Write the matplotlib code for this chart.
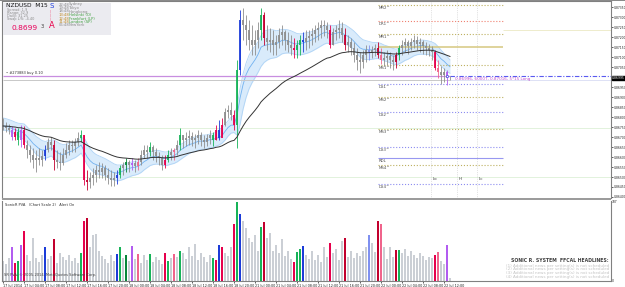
import numpy as np
import pandas as pd
import matplotlib
matplotlib.use("Agg")
import matplotlib.pyplot as plt
from matplotlib.patches import Rectangle

# NZDUSD bars (oldest first)
high = [0.86795, 0.86775, 0.86765, 0.86755, 0.86745, 0.86745, 0.86760, 0.86755, 0.86685, 0.86660,
        0.86645, 0.86635, 0.86645, 0.86635, 0.86660, 0.86695, 0.86700, 0.86685, 0.86635, 0.86625,
        0.86645, 0.86670, 0.86685, 0.86685, 0.86695, 0.86725, 0.86735, 0.86710, 0.86535, 0.86525,
        0.86545, 0.86560, 0.86575, 0.86570, 0.86560, 0.86545, 0.86535, 0.86525, 0.86535, 0.86560,
        0.86575, 0.86595, 0.86585, 0.86595, 0.86585, 0.86595, 0.86635, 0.86660, 0.86660, 0.86675,
        0.86660, 0.86645, 0.86625, 0.86610, 0.86610, 0.86635, 0.86645, 0.86645, 0.86685, 0.86745,
        0.86710, 0.86725, 0.86735, 0.86725, 0.86715, 0.86735, 0.86725, 0.86710, 0.86715, 0.86735,
        0.86725, 0.86760, 0.86785, 0.86795, 0.86845, 0.86860, 0.86875, 0.86835, 0.87085, 0.87335,
        0.87345, 0.87310, 0.87285, 0.87260, 0.87235, 0.87275, 0.87345, 0.87325, 0.87260, 0.87245,
        0.87235, 0.87210, 0.87245, 0.87260, 0.87235, 0.87225, 0.87210, 0.87195, 0.87185, 0.87210,
        0.87225, 0.87235, 0.87235, 0.87245, 0.87260, 0.87275, 0.87285, 0.87285, 0.87275, 0.87260,
        0.87245, 0.87260, 0.87285, 0.87275, 0.87245, 0.87210, 0.87195, 0.87175, 0.87145, 0.87125,
        0.87135, 0.87160, 0.87160, 0.87155, 0.87165, 0.87175, 0.87145, 0.87125, 0.87135, 0.87125,
        0.87110, 0.87125, 0.87160, 0.87185, 0.87195, 0.87185, 0.87195, 0.87210, 0.87205, 0.87195,
        0.87185, 0.87175, 0.87165, 0.87155, 0.87135, 0.87085, 0.87055, 0.87045, 0.87035, 0.87005]
low = [0.86735, 0.86725, 0.86715, 0.86685, 0.86685, 0.86660, 0.86650, 0.86645, 0.86595, 0.86575,
       0.86545, 0.86525, 0.86560, 0.86555, 0.86585, 0.86625, 0.86635, 0.86535, 0.86545, 0.86535,
       0.86560, 0.86595, 0.86610, 0.86625, 0.86625, 0.86655, 0.86675, 0.86460, 0.86435, 0.86445,
       0.86460, 0.86475, 0.86495, 0.86495, 0.86485, 0.86465, 0.86455, 0.86455, 0.86465, 0.86495,
       0.86510, 0.86525, 0.86525, 0.86535, 0.86525, 0.86535, 0.86560, 0.86595, 0.86595, 0.86605,
       0.86585, 0.86575, 0.86560, 0.86535, 0.86545, 0.86575, 0.86585, 0.86585, 0.86610, 0.86635,
       0.86645, 0.86655, 0.86660, 0.86655, 0.86645, 0.86665, 0.86655, 0.86645, 0.86655, 0.86665,
       0.86655, 0.86685, 0.86685, 0.86710, 0.86755, 0.86795, 0.86785, 0.86735, 0.86645, 0.87010,
       0.87185, 0.87160, 0.87135, 0.87110, 0.87110, 0.87145, 0.87185, 0.87160, 0.87135, 0.87125,
       0.87110, 0.87110, 0.87145, 0.87160, 0.87135, 0.87125, 0.87110, 0.87095, 0.87095, 0.87110,
       0.87125, 0.87135, 0.87145, 0.87160, 0.87175, 0.87185, 0.87195, 0.87205, 0.87195, 0.87145,
       0.87160, 0.87185, 0.87195, 0.87175, 0.87135, 0.87125, 0.87110, 0.87075, 0.87035, 0.87020,
       0.87045, 0.87075, 0.87085, 0.87095, 0.87105, 0.87095, 0.87065, 0.87055, 0.87060, 0.87045,
       0.87035, 0.87045, 0.87085, 0.87110, 0.87125, 0.87115, 0.87135, 0.87145, 0.87135, 0.87125,
       0.87115, 0.87110, 0.87105, 0.87085, 0.87035, 0.86995, 0.86965, 0.86975, 0.86960, 0.86985]
close = [0.86755, 0.86745, 0.86735, 0.86700, 0.86725, 0.86685, 0.86735, 0.86660, 0.86635, 0.86610,
         0.86585, 0.86595, 0.86585, 0.86605, 0.86635, 0.86675, 0.86660, 0.86585, 0.86575, 0.86570,
         0.86610, 0.86635, 0.86660, 0.86655, 0.86675, 0.86695, 0.86710, 0.86485, 0.86475, 0.86495,
         0.86510, 0.86535, 0.86525, 0.86545, 0.86510, 0.86495, 0.86485, 0.86495, 0.86510, 0.86545,
         0.86560, 0.86575, 0.86560, 0.86570, 0.86555, 0.86575, 0.86610, 0.86635, 0.86625, 0.86650,
         0.86625, 0.86605, 0.86595, 0.86560, 0.86585, 0.86610, 0.86625, 0.86635, 0.86660, 0.86710,
         0.86685, 0.86695, 0.86705, 0.86685, 0.86695, 0.86710, 0.86685, 0.86675, 0.86695, 0.86710,
         0.86685, 0.86735, 0.86695, 0.86760, 0.86825, 0.86835, 0.86810, 0.86760, 0.87035, 0.87285,
         0.87260, 0.87235, 0.87185, 0.87160, 0.87185, 0.87235, 0.87310, 0.87195, 0.87175, 0.87185,
         0.87160, 0.87175, 0.87210, 0.87225, 0.87185, 0.87160, 0.87145, 0.87135, 0.87160, 0.87185,
         0.87175, 0.87195, 0.87205, 0.87215, 0.87235, 0.87245, 0.87260, 0.87255, 0.87235, 0.87160,
         0.87225, 0.87235, 0.87245, 0.87210, 0.87160, 0.87175, 0.87145, 0.87110, 0.87085, 0.87075,
         0.87110, 0.87135, 0.87125, 0.87135, 0.87145, 0.87110, 0.87085, 0.87095, 0.87105, 0.87085,
         0.87075, 0.87110, 0.87145, 0.87160, 0.87175, 0.87155, 0.87175, 0.87185, 0.87165, 0.87175,
         0.87155, 0.87145, 0.87135, 0.87125, 0.87045, 0.87025, 0.87010, 0.87025, 0.86995, 0.86995]

# tick volume of the PVA histogram
volume = [200, 170, 230, 330, 180, 200, 350, 490, 260, 200,
          420, 230, 190, 260, 330, 220, 250, 410, 180, 280,
          240, 210, 260, 200, 230, 180, 280, 590, 620, 330,
          450, 460, 300, 250, 220, 180, 260, 200, 270, 330,
          230, 260, 200, 340, 220, 270, 180, 260, 210, 270,
          190, 240, 210, 170, 280, 200, 230, 270, 240, 300,
          280, 220, 330, 250, 360, 210, 280, 240, 190, 260,
          230, 210, 350, 330, 280, 250, 330, 560, 780, 660,
          590, 520, 420, 380, 450, 300, 530, 580, 420, 470,
          300, 350, 280, 410, 250, 300, 220, 190, 290, 320,
          340, 260, 220, 300, 210, 260, 190, 330, 240, 370,
          280, 320, 210, 390, 420, 240, 300, 230, 280, 250,
          300, 330, 450, 370, 290, 590, 560, 330, 220, 330,
          240, 310, 310, 280, 320, 250, 300, 260, 230, 280,
          250, 210, 240, 230, 260, 290, 200, 170, 350, 30]

# PVA classification of the coloured bars (everything else is normal)
signal = {3: 'p', 4: 'r', 5: 'g', 6: 'p', 7: 'r', 14: 'b', 17: 'd', 26: 'g', 27: 'r', 28: 'd',
          38: 'b', 39: 'g', 41: 'e', 43: 'p', 45: 'k', 49: 'g', 54: 'r', 55: 'g', 57: 'k', 59: 'g',
          70: 'g', 71: 'r', 72: 'b', 73: 'r', 77: 'r', 78: 'g', 79: 'b', 86: 'g', 87: 'd', 97: 'r',
          98: 'g', 99: 'g', 100: 'b', 109: 'r', 114: 'd', 122: 'v', 125: 'd', 126: 'k', 131: 'd',
          132: 'g', 144: 'r', 145: 'k', 148: 'p'}

time_labels = ["17 Jul 2014", "17 Jul 04:00", "17 Jul 08:00", "17 Jul 12:00", "17 Jul 16:00",
               "17 Jul 20:00", "18 Jul 00:00", "18 Jul 04:00", "18 Jul 08:00", "18 Jul 12:00",
               "18 Jul 16:00", "18 Jul 20:00", "21 Jul 00:00", "21 Jul 04:00", "21 Jul 08:00",
               "21 Jul 12:00", "21 Jul 16:00", "21 Jul 20:00", "22 Jul 00:00", "22 Jul 04:00",
               "22 Jul 08:00", "22 Jul 12:00"]
bars_per_label = 7

# pivot levels
levels = [("MR2^", 0.87360), ("DR1^", 0.87280), ("MR1^", 0.87215), ("MS1^", 0.87060),
          ("DS1^", 0.86965), ("MS2^", 0.86900), ("DS2^", 0.86825), ("MS3^", 0.86740),
          ("DS3^", 0.86650), ("RDL", 0.86595), ("MS4^", 0.86560), ("DS4^", 0.86465)]
prev_high = 0.87150
order_price = 0.87005
bid_price = 0.86995
session_marks = [("Lo", 142.7), ("Hi", 151.3), ("Lc", 158.0)]

clocks = [("22:48", "Sydney"), ("19:48", "Tokyo"), ("18:48", "Hongkong"), ("13:48", "Helsinki (O)"),
          ("12:48", "Frankfurt (LP)"), ("11:48", "London (SP)"), ("06:48", "NewYork")]

W, H = 625, 287
fig = plt.figure(figsize=(W / 100, H / 100), dpi=100)
fig.patch.set_facecolor("white")


def fx(x):
    return x / W


def fy(y):
    return 1 - y / H


ax = fig.add_axes([fx(2), fy(198), 609 / W, 197 / H])
ax2 = fig.add_axes([fx(2), fy(281), 609 / W, 80 / H])

price_col = {'n': '#8e8e8e', 'r': '#e6004c', 'd': '#c2002e', 'g': '#17b359', 'e': '#08873a',
             'b': '#1c3cd8', 'v': '#7f90f0', 'p': '#b25cf0', 'k': '#f0648c'}
vol_col = dict(price_col, n='#cbcfd5')

x = np.arange(len(close))
close_a = np.array(close)
opens = np.r_[close_a[0], close_a[:-1]]
codes = [signal.get(i, 'n') for i in x]

# moving-average ribbon and slow average
ema_h = pd.Series(high).ewm(span=10, adjust=False).mean()
ema_l = pd.Series(low).ewm(span=10, adjust=False).mean()
ema_c = pd.Series(close).ewm(span=10, adjust=False).mean()
slow = pd.Series(close).ewm(span=40, adjust=False).mean()
ax.fill_between(x, ema_l, ema_h, color='#d9ebfb', lw=0, zorder=1)
ax.plot(x, ema_h, color='#b0d4f6', lw=0.6, zorder=1.5)
ax.plot(x, ema_l, color='#b0d4f6', lw=0.6, zorder=1.5)
ax.plot(x, ema_c, color='#72b2f0', lw=0.6, zorder=1.6)

ax.vlines(x, low, high, colors=[price_col[c] for c in codes], lw=0.6, zorder=3)
ax.vlines(x, np.minimum(opens, close_a), np.maximum(opens, close_a),
          colors=[price_col[c] for c in codes], lw=1.3, zorder=3)
ax.plot(x, slow, color='#333333', lw=0.7, zorder=4)

xmax = 202.7
# faint full-width lines
ax.axhline(0.86745, color='#e2f2dc', lw=0.7, zorder=0.5)
ax.axhline(0.86500, color='#e2f2dc', lw=0.7, zorder=0.5)
ax.hlines(0.87235, 166.7, xmax, color='#eeeccc', lw=0.7, zorder=0.5)

# open order and price lines
ax.hlines(order_price, 0, x[-1], color='#c88ee0', lw=0.9, zorder=2)
ax.hlines(bid_price - 0.0001, 0, x[-1], color='#c8c8c8', lw=0.7, zorder=2)
ax.hlines(order_price, x[-1], xmax, color='#5a5af0', lw=0.8, ls=(0, (4, 1.5, 1, 1.5)), zorder=2)
ax.hlines(bid_price - 0.00008, x[-1], xmax, color='#d8dcf4', lw=0.6, zorder=2)
ax.text(1, order_price + 0.00003, "\u2022 #273883 buy 0.10", fontsize=2.6, color='#303030',
        va='bottom', ha='left')
ax.text(150.7, bid_price - 0.00006, "0.86996, 6000T, 0.87016, 5*15 Long", fontsize=3,
        color='#c050d0', va='center', ha='left')
ax.plot([148], [order_price], marker='o', ms=1.6, mfc='white', mec='#4050e0', mew=0.5, zorder=5)

# pivot levels on the right
lx0, lx1 = 125.0, 166.7
for name, lv in levels:
    if name.startswith('M'):
        col, ls = '#bdb060', ':'
    elif name == 'DR1^':
        col, ls = '#f08070', ':'
    elif name == 'RDL':
        col, ls = '#9898f0', '-'
    else:
        col, ls = '#8c8cf0', ':'
    ax.hlines(lv, lx0, lx1, color=col, lw=0.8, ls=ls, zorder=2)
    ax.text(lx0 + 0.3, lv - 0.00005, name, fontsize=2.8, color='#505050', va='top', ha='left')
ax.hlines(prev_high, lx0, lx1, color='#d6c880', lw=1.1, zorder=2)

for name, xi in session_marks:
    ax.axvline(xi, color='#c8c8c8', lw=0.5, ls=':', zorder=0.8)
    ax.text(xi + 0.6, 0.86490, name, fontsize=3, color='#404040', va='center', ha='left')

ax.set_xlim(-0.4, xmax)
ax.set_ylim(0.86395, 0.87380)
ax.yaxis.tick_right()
yt = [v for v in np.arange(0.8640, 0.8738, 0.0005) if abs(v - bid_price) > 0.0002]
ax.set_yticks(yt)
ax.set_yticklabels([f"{v:.5f}" for v in yt], fontsize=2.2, color='#202020')
ax.tick_params(axis='y', length=1.2, width=0.5, pad=0.5, colors='#202020')
ax.set_xticks([])
for s in ['left', 'top', 'right']:
    ax.spines[s].set_color('#808080')
    ax.spines[s].set_linewidth(0.8)
ax.spines['bottom'].set_visible(False)
ax.text(1.002, bid_price, "0.86995", transform=ax.get_yaxis_transform(), fontsize=2.2,
        color='white', va='center', ha='left',
        bbox=dict(boxstyle='square,pad=0.12', fc='black', ec='black'))

# PVA volume panel
ax2.bar(x, volume, width=0.55, color=[vol_col[c] for c in codes], lw=0)
ax2.set_xlim(-0.4, xmax)
ax2.set_ylim(0, max(volume) * 1.01)
ax2.yaxis.tick_right()
ax2.set_yticks([0, max(volume)])
ax2.set_yticklabels(["0", str(max(volume) + 7)], fontsize=2.2, color='#202020')
ax2.tick_params(axis='y', length=0, pad=0.8)
tick_pos = np.arange(len(time_labels)) * bars_per_label
ax2.set_xticks(tick_pos)
ax2.set_xticklabels(time_labels, fontsize=2.4, ha='left', color='#202020')
ax2.tick_params(axis='x', length=1.5, width=0.5, pad=0.6, colors='#202020')
for s in ['left', 'bottom', 'right']:
    ax2.spines[s].set_color('#808080')
    ax2.spines[s].set_linewidth(0.8)
ax2.spines['top'].set_visible(False)
ax2.text(0.005, 0.97, "SonicR PVA   (Chart Scale 2)   Alert On", transform=ax2.transAxes,
         fontsize=2.6, color='#303030', va='top', ha='left')
ax2.text(0.003, 0.05, "SR PVA, \u00a9 2005-2014, MetaQuotes Software Corp.", transform=ax2.transAxes,
         fontsize=2.6, color='#404040', va='bottom', ha='left')

# separator between panels
fig.add_artist(Rectangle((fx(2), fy(200)), 609 / W, 2.5 / H, transform=fig.transFigure,
                         color='#9c9c9c', lw=0))

# news box (bottom right)
fig.text(fx(609), fy(261), "SONIC R. SYSTEM  FFCAL HEADLINES:", fontsize=3.3, color='#404040',
         ha='right', va='center', weight='bold')
for k in range(4):
    fig.text(fx(609), fy(265.5 + 3.7 * k), f"({k + 1}) Additional news per setting(s) is not scheduled",
             fontsize=3, color='#c4c4c4', ha='right', va='center')

# header info box
fig.add_artist(Rectangle((fx(3), fy(35)), 108 / W, 32 / H, transform=fig.transFigure,
                         color='#ebebf0', lw=0, zorder=5))
fig.text(fx(6), fy(5.5), "NZDUSD  M15", fontsize=4.2, color='#111111', ha='left', va='center', zorder=6)
for k, s in enumerate(["Spread: 1.9", "Range: 32.9", "Daily: 31.25", "Swap L/S: -4.40"]):
    fig.text(fx(7), fy(9.5 + 3.2 * k), s, fontsize=2.5, color='#8a8a8a', ha='left', va='center', zorder=6)
fig.text(fx(12), fy(27.5), "0.8699", fontsize=5.4, color='#e8005a', ha='left', va='center', zorder=6)
fig.text(fx(41), fy(27), "3", fontsize=3.8, color='#404040', ha='left', va='center', zorder=6)
fig.text(fx(49), fy(5.5), "S", fontsize=5, color='#2040e0', ha='left', va='center', zorder=6)
for k in range(3):
    fig.text(fx(50), fy(11.5 + 4 * k), "|", fontsize=3, color='#f07090', ha='left', va='center', zorder=6)
fig.text(fx(48.5), fy(25.5), "A", fontsize=6, color='#e8004a', ha='left', va='center', zorder=6)
for k, (t, city) in enumerate(clocks):
    if 3 <= k <= 5:
        tc, cc = '#c08a20', '#40a040'
    else:
        tc, cc = '#8a8a8a', '#8a8a8a'
    fig.text(fx(59), fy(4.5 + 3.5 * k), t, fontsize=2.7, color=tc, ha='left', va='center', zorder=6)
    fig.text(fx(69), fy(4.5 + 3.5 * k), city, fontsize=2.7, color=cc, ha='left', va='center', zorder=6)

# outer frame line
fig.add_artist(Rectangle((0, fy(1)), 1, 1 / H, transform=fig.transFigure, color='#8a8a8a', lw=0))

fig.savefig("out.png", dpi=100, facecolor='white')
